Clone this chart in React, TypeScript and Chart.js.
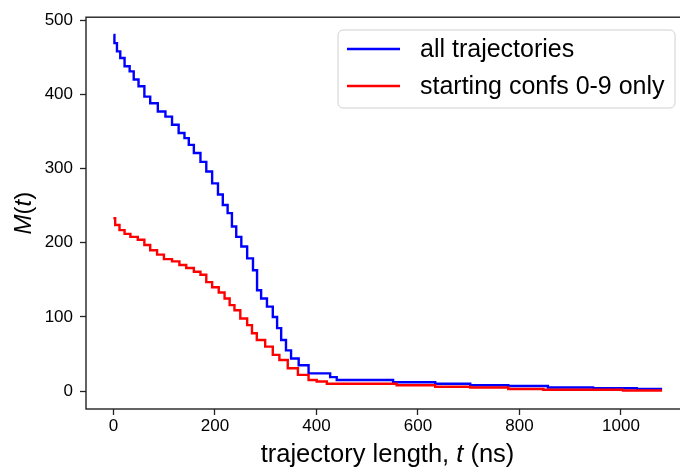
import React, { useEffect, useRef } from "react";
import { Chart, registerables } from "chart.js";

Chart.register(...registerables);

// M(t): number of trajectories at least t ns long, traced as staircase vertices
// (the long tail keeps explicit corners so its drops stay vertical)
const allTimes = [
  0, 4, 10, 17, 27, 37, 43, 56, 66, 79, 96, 109, 122, 135, 145, 152, 165, 178,
  188, 201, 211, 220, 230, 237, 247, 257, 270, 280, 286, 296, 309, 319, 326, 335,
  345, 355, 375, 394, 427, 427, 440, 440, 551, 551, 634, 634, 703, 703, 778, 778,
  856, 856, 945, 945, 1031, 1031, 1081,
];
const allCounts = [
  480, 469, 458, 449, 438, 431, 420, 411, 397, 388, 377, 370, 359, 348, 341, 332,
  321, 309, 296, 280, 265, 251, 240, 222, 208, 195, 179, 163, 136, 125, 114, 100,
  85, 69, 55, 44, 35, 24, 24, 19, 19, 15, 15, 12, 12, 10, 10, 8, 8, 7, 7, 5, 5, 4,
  4, 3, 3,
];

const subTimes = [
  0, 7, 17, 27, 40, 56, 66, 79, 93, 106, 125, 135, 152, 165, 178, 188, 201, 214,
  224, 234, 243, 257, 270, 276, 289, 309, 319, 335, 352, 375, 394, 407, 434, 558,
  558, 634, 634, 703, 703, 778, 778, 847, 847, 1004, 1004, 1081,
];
const subCounts = [
  233, 224, 217, 212, 208, 204, 197, 190, 184, 178, 175, 170, 166, 161, 157, 147,
  140, 133, 125, 116, 109, 98, 89, 78, 69, 60, 49, 42, 31, 22, 15, 13, 10, 10, 8,
  8, 6, 6, 5, 5, 3, 3, 2, 2, 1, 1,
];

const seriesLabels = ["all trajectories", "starting confs 0-9 only"];
const seriesColors = ["#0000ff", "#ff0000"];

const xTicks = [0, 200, 400, 600, 800, 1000];
const yTicks = [0, 100, 200, 300, 400, 500];

const FONT = "'Liberation Sans', Arial, sans-serif";

function toPoints(ts: number[], ms: number[]) {
  return ts.map((t, i) => ({ x: t, y: ms[i] }));
}

const framePlugin = {
  id: "frameAndLabels",
  afterDraw(chart: any) {
    const { ctx, chartArea } = chart;
    const { left, right, top, bottom } = chartArea;
    ctx.save();

    // axes frame
    ctx.strokeStyle = "#222";
    ctx.lineWidth = 1.4;
    ctx.strokeRect(left, top, right - left, bottom - top);

    // x axis title with italic t
    const xParts: [string, boolean][] = [
      ["trajectory length, ", false],
      ["t", true],
      [" (ns)", false],
    ];
    const size = 25.5;
    let total = 0;
    const widths = xParts.map(([s, it]) => {
      ctx.font = `${it ? "italic " : ""}${size}px ${FONT}`;
      const w = ctx.measureText(s).width;
      total += w;
      return w;
    });
    let x = (left + right) / 2 - total / 2;
    ctx.fillStyle = "#000";
    ctx.textBaseline = "alphabetic";
    ctx.textAlign = "left";
    xParts.forEach(([s, it], i) => {
      ctx.font = `${it ? "italic " : ""}${size}px ${FONT}`;
      ctx.fillText(s, x, 462);
      x += widths[i];
    });

    // y axis title M(t)
    const yParts: [string, boolean][] = [
      ["M", true],
      ["(", false],
      ["t", true],
      [")", false],
    ];
    const ysize = 24;
    let ytotal = 0;
    const ywidths = yParts.map(([s, it]) => {
      ctx.font = `${it ? "italic " : ""}${ysize}px ${FONT}`;
      const w = ctx.measureText(s).width;
      ytotal += w;
      return w;
    });
    ctx.translate(31, (top + bottom) / 2);
    ctx.rotate(-Math.PI / 2);
    let yx = -ytotal / 2;
    yParts.forEach(([s, it], i) => {
      ctx.font = `${it ? "italic " : ""}${ysize}px ${FONT}`;
      ctx.fillText(s, yx, 0);
      yx += ywidths[i];
    });
    ctx.setTransform(1, 0, 0, 1, 0, 0);

    // legend
    const bx = 338, by = 30, bw = 337, bh = 78, r = 5;
    ctx.beginPath();
    ctx.moveTo(bx + r, by);
    ctx.arcTo(bx + bw, by, bx + bw, by + bh, r);
    ctx.arcTo(bx + bw, by + bh, bx, by + bh, r);
    ctx.arcTo(bx, by + bh, bx, by, r);
    ctx.arcTo(bx, by, bx + bw, by, r);
    ctx.closePath();
    ctx.fillStyle = "rgba(255,255,255,0.8)";
    ctx.fill();
    ctx.strokeStyle = "#d0d0d0";
    ctx.lineWidth = 1;
    ctx.stroke();

    const rows = [49, 86];
    ctx.font = `25px ${FONT}`;
    ctx.textBaseline = "middle";
    seriesLabels.forEach((label, i) => {
      ctx.strokeStyle = seriesColors[i];
      ctx.lineWidth = 2.4;
      ctx.beginPath();
      ctx.moveTo(347, rows[i]);
      ctx.lineTo(400, rows[i]);
      ctx.stroke();
      ctx.fillStyle = "#000";
      ctx.fillText(label, 420, rows[i] + 1);
    });

    ctx.restore();
  },
};

export default function App() {
  const canvasRef = useRef<HTMLCanvasElement | null>(null);

  useEffect(() => {
    if (!canvasRef.current) return;
    const tickFont = { family: FONT, size: 17 };
    const chart = new Chart(canvasRef.current, {
      type: "line",
      data: {
        datasets: [
          {
            label: seriesLabels[0],
            data: toPoints(allTimes, allCounts),
            borderColor: seriesColors[0],
            borderWidth: 2.4,
            pointRadius: 0,
            stepped: "middle",
            fill: false,
            order: 1,
          },
          {
            label: seriesLabels[1],
            data: toPoints(subTimes, subCounts),
            borderColor: seriesColors[1],
            borderWidth: 2.4,
            pointRadius: 0,
            stepped: "middle",
            fill: false,
            order: 0,
          },
        ],
      },
      options: {
        animation: false,
        responsive: false,
        maintainAspectRatio: false,
        devicePixelRatio: 1,
        layout: { padding: { top: 17, right: 11, left: 0, bottom: 0 } },
        plugins: {
          legend: { display: false },
          tooltip: { enabled: false },
        },
        scales: {
          x: {
            type: "linear",
            min: -54,
            max: 1134,
            afterFit: (s: any) => {
              s.height = 59;
            },
            afterBuildTicks: (s: any) => {
              s.ticks = xTicks.map((v) => ({ value: v }));
            },
            grid: {
              display: true,
              drawOnChartArea: false,
              drawTicks: true,
              tickLength: 6,
              tickColor: "#222",
              tickWidth: 1.3,
            },
            border: { display: false },
            ticks: {
              padding: 1,
              color: "#000",
              font: tickFont,
              maxRotation: 0,
              callback: (v: any) => String(v),
            },
          },
          y: {
            type: "linear",
            min: -24,
            max: 504,
            afterFit: (s: any) => {
              s.width = 86;
            },
            afterBuildTicks: (s: any) => {
              s.ticks = yTicks.map((v) => ({ value: v }));
            },
            grid: {
              display: true,
              drawOnChartArea: false,
              drawTicks: true,
              tickLength: 6,
              tickColor: "#222",
              tickWidth: 1.3,
            },
            border: { display: false },
            ticks: {
              padding: 7,
              color: "#000",
              font: tickFont,
              callback: (v: any) => String(v),
            },
          },
        },
      },
      plugins: [framePlugin],
    });
    return () => chart.destroy();
  }, []);

  return (
    <div
      style={{
        position: "fixed",
        left: 0,
        top: 0,
        width: 680,
        height: 468,
        overflow: "hidden",
        background: "#fff",
      }}
    >
      <canvas
        ref={canvasRef}
        width={700}
        height={468}
        style={{ width: 700, height: 468, display: "block" }}
      />
    </div>
  );
}
